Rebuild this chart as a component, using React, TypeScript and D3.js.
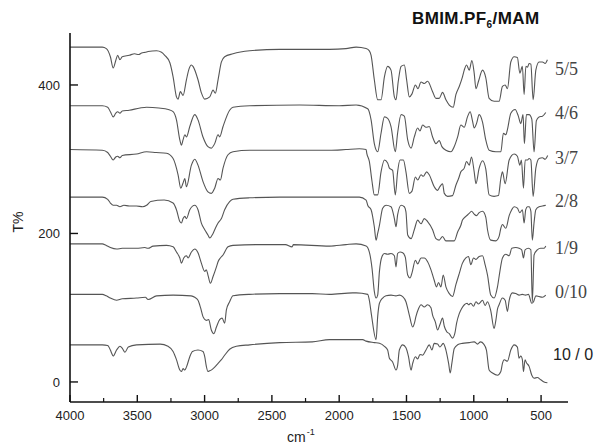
import React from "react";
import * as d3 from "d3";

type P = [number, number];

const s55: P[] = [[4000,451],[3760,451],[3730,449],[3700,438],[3679,423],[3660,433],[3646,440],[3629,434],[3612,438],[3560,440],[3520,442],[3490,441],[3468,443],[3440,444],[3420,445],[3357,446],[3320,444],[3296,440],[3258,430],[3234,411],[3209,384],[3197,381],[3180,391],[3160,386],[3135,407],[3115,422],[3098,427],[3086,425],[3049,407],[3023,389],[2999,381],[2962,384],[2937,393],[2920,389],[2900,407],[2875,431],[2851,438],[2789,442],[2665,446],[2443,448],[2200,448],[2072,448],[1950,449],[1874,451],[1800,449],[1776,446],[1763,440],[1739,407],[1714,380],[1689,380],[1664,411],[1640,425],[1615,420],[1590,384],[1578,380],[1561,405],[1540,425],[1516,427],[1499,407],[1479,384],[1459,388],[1434,400],[1415,395],[1392,404],[1368,402],[1343,405],[1306,391],[1281,382],[1257,382],[1232,390],[1207,380],[1182,373],[1153,370],[1133,387],[1108,398],[1084,411],[1071,420],[1054,427],[1034,420],[1014,433],[997,416],[984,395],[965,405],[935,420],[911,410],[886,382],[849,378],[812,378],[787,398],[767,400],[750,395],[725,431],[700,438],[676,437],[658,416],[639,425],[626,387],[613,425],[601,424],[589,429],[576,428],[559,380],[539,420],[515,431],[490,431],[470,429],[453,434]];

const s46: P[] = [[4000,372],[3760,372],[3720,370],[3700,364],[3679,357],[3660,362],[3646,364],[3629,362],[3612,365],[3560,366],[3480,369],[3431,370],[3340,369],[3270,367],[3234,364],[3209,353],[3184,326],[3172,319],[3160,326],[3147,333],[3135,330],[3110,344],[3073,360],[3049,353],[3012,330],[2975,317],[2950,315],[2925,321],[2900,333],[2888,330],[2863,344],[2814,366],[2789,370],[2665,372],[2295,373],[2000,372],[1874,373],[1788,368],[1763,353],[1739,321],[1714,310],[1689,335],[1664,357],[1640,355],[1615,344],[1583,310],[1566,335],[1540,360],[1516,358],[1491,326],[1466,315],[1442,330],[1417,342],[1400,338],[1380,346],[1355,343],[1331,344],[1306,330],[1281,321],[1257,325],[1237,317],[1207,312],[1170,310],[1145,317],[1120,330],[1096,346],[1071,343],[1047,357],[1027,364],[1010,352],[997,342],[980,348],[960,360],[935,350],[911,326],[886,312],[836,310],[799,310],[780,335],[762,333],[750,340],[725,362],[693,367],[669,358],[651,348],[634,360],[624,321],[609,360],[589,360],[569,354],[552,310],[535,352],[515,357],[490,358],[465,363]];

const s37: P[] = [[4000,313],[3760,312],[3720,309],[3700,304],[3679,299],[3660,303],[3646,304],[3629,302],[3612,305],[3506,307],[3431,310],[3360,309],[3283,308],[3234,301],[3197,279],[3177,261],[3160,268],[3147,274],[3135,263],[3098,292],[3073,300],[3049,292],[3012,270],[2975,256],[2950,254],[2925,261],[2900,274],[2883,272],[2863,288],[2826,306],[2789,310],[2665,312],[2443,312],[2072,312],[1950,313],[1850,314],[1800,313],[1795,308],[1776,297],[1756,270],[1739,252],[1714,252],[1689,283],[1664,299],[1640,295],[1627,288],[1603,285],[1583,252],[1566,283],[1548,299],[1523,299],[1504,283],[1479,254],[1459,257],[1434,276],[1417,272],[1392,279],[1375,277],[1350,283],[1331,279],[1294,263],[1269,258],[1252,263],[1232,267],[1219,254],[1195,250],[1158,251],[1133,265],[1113,274],[1096,283],[1071,288],[1054,297],[1034,292],[1017,303],[997,283],[984,267],[960,288],[935,298],[911,287],[886,252],[849,250],[817,251],[799,274],[787,283],[767,267],[737,299],[700,307],[676,304],[658,292],[646,299],[631,261],[618,299],[601,299],[589,301],[576,299],[559,250],[539,288],[515,301],[490,302],[470,300],[451,305]];

const s28: P[] = [[4000,249],[3760,249],[3720,246],[3700,241],[3679,238],[3654,238],[3629,236],[3600,238],[3560,237],[3506,237],[3460,236],[3431,238],[3400,243],[3300,245],[3234,241],[3209,232],[3184,216],[3172,214],[3160,220],[3147,223],[3135,220],[3110,232],[3073,238],[3049,232],[3024,214],[2999,205],[2975,198],[2962,194],[2937,200],[2920,207],[2900,214],[2875,220],[2851,232],[2814,243],[2789,246],[2665,248],[2443,249],[2072,249],[1850,249],[1800,245],[1788,238],[1763,232],[1739,209],[1726,191],[1714,200],[1701,211],[1677,234],[1652,238],[1615,236],[1590,220],[1578,209],[1566,225],[1540,238],[1516,236],[1504,229],[1491,198],[1466,193],[1442,205],[1417,218],[1392,213],[1368,220],[1343,216],[1306,205],[1281,193],[1257,191],[1232,196],[1207,190],[1182,190],[1145,190],[1120,202],[1096,211],[1084,218],[1059,223],[1034,227],[1017,230],[997,226],[980,224],[960,228],[935,230],[911,222],[898,205],[874,191],[836,190],[812,196],[799,207],[787,212],[762,207],[737,224],[718,232],[700,236],[676,234],[658,228],[639,232],[626,214],[614,232],[601,236],[589,236],[576,230],[565,191],[552,215],[539,232],[515,236],[490,237],[465,238]];

const s19: P[] = [[4000,186],[3760,186],[3733,184],[3700,181],[3654,179],[3612,180],[3506,180],[3444,181],[3420,180],[3382,183],[3283,184],[3234,182],[3209,175],[3184,167],[3172,160],[3155,167],[3135,170],[3123,167],[3098,175],[3073,179],[3049,174],[3024,160],[2999,149],[2987,151],[2975,144],[2957,133],[2937,142],[2912,155],[2900,162],[2883,167],[2863,171],[2826,182],[2789,184],[2600,185],[2400,185],[2350,182],[2340,185],[2072,183],[1950,185],[1874,186],[1800,183],[1776,175],[1756,153],[1739,122],[1726,113],[1714,117],[1701,149],[1682,169],[1664,173],[1640,172],[1615,173],[1590,170],[1578,155],[1566,173],[1548,175],[1528,174],[1509,168],[1491,144],[1474,140],[1459,147],[1434,164],[1417,159],[1392,167],[1368,167],[1343,162],[1318,151],[1294,137],[1277,128],[1262,134],[1244,128],[1227,144],[1207,128],[1182,119],[1158,115],[1133,131],[1108,146],[1084,160],[1059,167],[1039,169],[1022,158],[1002,167],[984,165],[960,169],[935,170],[916,158],[898,144],[874,117],[849,113],[824,128],[806,149],[787,167],[762,172],[737,170],[718,180],[688,181],[663,180],[644,178],[631,167],[619,178],[594,180],[576,178],[565,108],[552,171],[528,178],[503,180],[478,180],[465,183]];

const s010: P[] = [[4000,118],[3760,118],[3730,116],[3700,113],[3654,110],[3612,112],[3506,113],[3440,114],[3420,111],[3357,116],[3234,117],[3100,116],[3073,114],[3049,110],[3030,100],[3012,88],[2987,83],[2970,84],[2950,70],[2932,65],[2912,74],[2888,84],[2870,86],[2851,79],[2838,97],[2814,108],[2789,116],[2665,118],[2443,119],[2200,119],[2072,118],[1900,120],[1874,120],[1788,118],[1776,110],[1760,90],[1726,57],[1714,88],[1701,106],[1677,113],[1652,116],[1615,117],[1578,116],[1553,117],[1528,115],[1504,108],[1479,90],[1454,74],[1440,80],[1430,88],[1410,99],[1392,104],[1368,101],[1343,104],[1318,100],[1306,90],[1286,81],[1269,70],[1252,77],[1232,86],[1219,75],[1202,68],[1182,65],[1158,59],[1140,66],[1128,79],[1108,92],[1090,99],[1070,104],[1050,106],[1039,104],[1022,106],[1002,102],[984,108],[965,105],[935,110],[916,103],[898,108],[874,96],[849,72],[836,83],[824,98],[812,104],[787,113],[767,110],[750,95],[737,110],[713,120],[688,119],[663,117],[640,118],[615,117],[594,118],[569,106],[556,108],[539,116],[515,115],[490,114],[465,117]];

const s100: P[] = [[4000,50],[3760,50],[3720,49],[3700,43],[3691,39],[3679,35],[3654,43],[3629,48],[3610,45],[3592,40],[3567,47],[3506,50],[3330,51],[3272,48],[3234,41],[3209,30],[3184,16],[3172,14],[3160,18],[3147,16],[3135,20],[3110,34],[3090,41],[3049,43],[3012,41],[2999,34],[2987,21],[2975,14],[2962,15],[2943,17],[2920,21],[2900,25],[2875,30],[2851,36],[2814,44],[2764,48],[2665,50],[2443,53],[2200,54],[2072,57],[1950,57],[1826,57],[1800,55],[1739,53],[1701,52],[1664,48],[1640,43],[1627,32],[1603,27],[1578,16],[1566,22],[1553,43],[1528,50],[1504,46],[1485,34],[1466,16],[1454,25],[1434,34],[1417,31],[1400,37],[1380,36],[1355,43],[1331,50],[1311,43],[1294,52],[1269,51],[1252,47],[1227,52],[1207,43],[1187,25],[1175,12],[1163,25],[1145,45],[1120,50],[1084,52],[1034,53],[997,54],[972,51],[950,54],[926,51],[906,43],[886,16],[861,12],[824,9],[799,14],[787,25],[774,30],[750,28],[725,43],[700,50],[676,47],[664,32],[651,35],[639,30],[631,14],[619,30],[609,26],[589,21],[569,9],[552,5],[528,6],[503,3],[478,0],[453,-1]];

const seriesNames = ["5/5", "4/6", "3/7", "2/8", "1/9", "0/10", "10 / 0"];
const seriesData = [s55, s46, s37, s28, s19, s010, s100];
const xTicks = [4000, 3500, 3000, 2500, 2000, 1500, 1000, 500];
const xMinorTicks = [3750, 3250, 2750, 2250, 1750, 1250, 750];
const yTicks = [0, 200, 400];

export default function App() {
  const W = 594, H = 447;
  const x = d3.scaleLinear().domain([4000, 300]).range([70, 568]);
  const y = d3.scaleLinear().domain([-27, 470]).range([402, 33]);
  const line = d3
    .line<P>()
    .x((d) => x(d[0]))
    .y((d) => y(d[1]))
    .curve(d3.curveMonotoneX);
  const labelY = [68.5, 113, 158, 201, 247.5, 291.5, 354];
  const sans = "'Liberation Sans', Arial, sans-serif";
  const serif = "'Liberation Serif', 'Times New Roman', serif";
  return (
    <svg
      width={W}
      height={H}
      style={{ position: "absolute", left: 0, top: 0, background: "#fff" }}
    >
      <rect width={W} height={H} fill="#fff" />
      {seriesData.map((s, i) => (
        <path key={i} d={line(s) || ""} fill="none" stroke="#555" strokeWidth={1.1} />
      ))}
      <line x1={x(4000)} x2={x(4000)} y1={y(470)} y2={y(-27)} stroke="#111" strokeWidth={1.6} />
      <line x1={x(4000)} x2={x(300)} y1={y(-27)} y2={y(-27)} stroke="#111" strokeWidth={1.6} />
      {xTicks.map((t) => (
        <g key={t}>
          <line x1={x(t)} x2={x(t)} y1={y(-27)} y2={y(-27) - 7} stroke="#111" strokeWidth={1.4} />
          <text x={x(t)} y={420} textAnchor="middle" fontFamily={sans} fontSize={13} fill="#222">
            {t}
          </text>
        </g>
      ))}
      {xMinorTicks.map((t) => (
        <line key={t} x1={x(t)} x2={x(t)} y1={y(-27)} y2={y(-27) - 4} stroke="#111" strokeWidth={1.2} />
      ))}
      {yTicks.map((t) => (
        <g key={t}>
          <line x1={x(4000)} x2={x(4000) + 8} y1={y(t)} y2={y(t)} stroke="#111" strokeWidth={1.4} />
          <text x={60} y={y(t)} dy="0.35em" textAnchor="end" fontFamily={sans} fontSize={13} fill="#222">
            {t}
          </text>
        </g>
      ))}
      <text
        transform="translate(23,222) rotate(-90)"
        textAnchor="middle"
        fontFamily={sans}
        fontSize={14}
        fill="#222"
      >
        T%
      </text>
      <text x={287} y={442} fontFamily={sans} fontSize={14} fill="#222">
        cm
        <tspan fontSize={9} dy={-7} dx={1}>-1</tspan>
      </text>
      <text x={412} y={24} fontFamily={sans} fontSize={17} fontWeight="bold" fill="#111" letterSpacing={0.4}>
        BMIM.PF
        <tspan fontSize={10} dy={4}>6</tspan>
        <tspan dy={-4}>/MAM</tspan>
      </text>
      {seriesNames.map((n, i) => (
        <text
          key={n}
          x={i === 6 ? 553 : 555}
          y={labelY[i]}
          dy="0.35em"
          fontFamily={i === 6 ? sans : serif}
          fontSize={i === 6 ? 16 : 18}
          fill={i === 6 ? "#222" : "#444"}
        >
          {n}
        </text>
      ))}
    </svg>
  );
}
